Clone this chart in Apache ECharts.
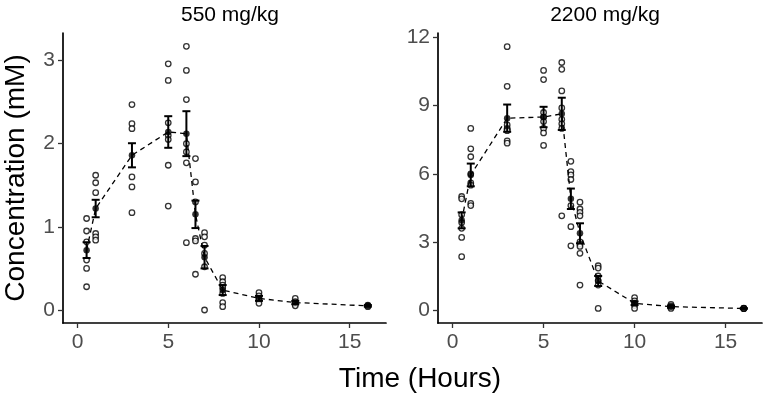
<!DOCTYPE html>
<html>
<head>
<meta charset="utf-8">
<script src="https://cdn.jsdelivr.net/npm/echarts@6/dist/echarts.min.js"></script>
<style>
  html, body { margin: 0; padding: 0; background: #fff; }
  #chart { width: 765px; height: 396px; }
</style>
</head>
<body>
<div id="chart"></div>
<script>
// sampling times (hours)
const times = [0.5, 1, 3, 5, 6, 6.5, 7, 8, 10, 12, 16]

// 550 mg/kg - individual animals, mean, SE
const lowRaw = [
  [1.1, 0.95, 0.82, 0.6, 0.5, 0.28],
  [1.62, 1.53, 1.41, 0.92, 0.88, 0.84],
  [2.47, 2.24, 2.18, 1.6, 1.48, 1.17],
  [2.96, 2.76, 2.25, 2.1, 2.05, 1.74, 1.25],
  [3.17, 2.88, 2.53, 2.0, 1.9, 1.77, 0.81],
  [1.82, 1.54, 1.3, 0.86, 0.83, 0.43],
  [0.93, 0.88, 0.78, 0.68, 0.52, 0.0],
  [0.39, 0.34, 0.3, 0.27, 0.2, 0.09, 0.04],
  [0.21, 0.17, 0.14, 0.12, 0.08],
  [0.14, 0.1, 0.07, 0.05],
  [0.06, 0.05, 0.04]
]
const lowMean = [0.72, 1.22, 1.86, 2.14, 2.12, 1.15, 0.635, 0.24, 0.14, 0.09, 0.05]
const lowSE = [0.095, 0.105, 0.145, 0.19, 0.27, 0.165, 0.135, 0.06, 0.03, 0.02, 0.01]

// 2200 mg/kg
const highRaw = [
  [5.0, 4.9, 4.2, 3.85, 3.6, 3.2, 2.35],
  [8.0, 7.1, 6.75, 6.0, 5.6, 5.5, 4.7, 4.6],
  [11.6, 9.85, 8.15, 8.0, 7.95, 7.9, 7.45, 7.35],
  [10.55, 10.15, 8.7, 8.5, 8.3, 8.0, 7.8, 7.25],
  [10.9, 10.6, 9.65, 8.9, 8.4, 8.2, 8.0, 4.15],
  [6.55, 6.1, 5.95, 5.75, 4.6, 3.67, 2.83],
  [4.75, 4.45, 4.3, 4.15, 3.0, 2.9, 2.8, 2.5, 1.1],
  [1.95, 1.85, 1.5, 1.3, 1.1, 0.07],
  [0.55, 0.4, 0.3, 0.2, 0.07],
  [0.25, 0.18, 0.12, 0.07],
  [0.08, 0.07, 0.06]
]
const highMean = [3.95, 5.95, 8.45, 8.5, 8.64, 4.9, 3.38, 1.28, 0.3, 0.15, 0.07]
const highSE = [0.35, 0.5, 0.6, 0.45, 0.71, 0.45, 0.44, 0.22, 0.08, 0.05, 0.02]

const panelTitles = ['550 mg/kg', '2200 mg/kg']
const xTicks = [0, 5, 10, 15]
const yTicksLow = [0, 1, 2, 3]
const yTicksHigh = [0, 3, 6, 9, 12]

const FONT = 'Liberation Sans, Arial, sans-serif'

function flatten(raw) {
  const out = []
  raw.forEach(function(vals, i) {
    vals.forEach(function(v) { out.push([times[i], v]) })
  })
  return out
}

function xAxisFor(idx) {
  return {
    gridIndex: idx,
    type: 'value',
    min: -0.8,
    max: 17,
    splitLine: { show: false },
    axisLine: { onZero: false, lineStyle: { color: '#000', width: 1.7 } },
    axisTick: { show: true, length: 5, customValues: xTicks, lineStyle: { color: '#333', width: 1.3 } },
    axisLabel: { customValues: xTicks, margin: 9, fontSize: 21, color: '#4d4d4d', fontFamily: FONT }
  }
}

function yAxisFor(idx, min, max, ticks) {
  return {
    gridIndex: idx,
    type: 'value',
    min: min,
    max: max,
    splitLine: { show: false },
    axisLine: { show: true, onZero: false, lineStyle: { color: '#000', width: 1.7 } },
    axisTick: { show: true, length: 5, customValues: ticks, lineStyle: { color: '#333', width: 1.3 } },
    axisLabel: { customValues: ticks, margin: 8, fontSize: 21, color: '#4d4d4d', fontFamily: FONT }
  }
}

function errorBarItem(params, api) {
  const x = api.value(0)
  const m = api.value(1)
  const se = api.value(2)
  const top = api.coord([x, m + se])
  const bot = api.coord([x, m - se])
  const w = 4
  const style = { stroke: '#000', lineWidth: 2 }
  return {
    type: 'group',
    children: [
      { type: 'line', shape: { x1: top[0], y1: top[1], x2: bot[0], y2: bot[1] }, style: style },
      { type: 'line', shape: { x1: top[0] - w, y1: top[1], x2: top[0] + w, y2: top[1] }, style: style },
      { type: 'line', shape: { x1: bot[0] - w, y1: bot[1], x2: bot[0] + w, y2: bot[1] }, style: style }
    ]
  }
}

function panelSeries(idx, raw, mean, se) {
  return [
    {
      type: 'scatter',
      xAxisIndex: idx,
      yAxisIndex: idx,
      symbol: 'circle',
      symbolSize: 5.5,
      itemStyle: { color: '#fff', borderColor: '#000', borderWidth: 1.3 },
      data: flatten(raw),
      z: 2
    },
    {
      type: 'line',
      xAxisIndex: idx,
      yAxisIndex: idx,
      showSymbol: false,
      lineStyle: { color: '#000', width: 1.3, type: [5, 4] },
      data: times.map(function(t, i) { return [t, mean[i]] }),
      z: 3
    },
    {
      type: 'custom',
      xAxisIndex: idx,
      yAxisIndex: idx,
      renderItem: errorBarItem,
      data: times.map(function(t, i) { return [t, mean[i], se[i]] }),
      z: 4
    },
    {
      type: 'scatter',
      xAxisIndex: idx,
      yAxisIndex: idx,
      symbol: 'circle',
      symbolSize: 6.5,
      itemStyle: { color: '#000' },
      data: times.map(function(t, i) { return [t, mean[i]] }),
      z: 5
    }
  ]
}

const chart = echarts.init(document.getElementById('chart'))

const yLow = yAxisFor(0, -0.156, 3.33, yTicksLow)
yLow.name = 'Concentration (mM)'
yLow.nameLocation = 'middle'
yLow.nameGap = 33
yLow.nameTextStyle = { fontSize: 28, color: '#000', fontFamily: FONT }

chart.setOption({
  animation: false,
  backgroundColor: '#fff',
  title: [
    { text: panelTitles[0], left: 225, top: 0, textAlign: 'center',
      textStyle: { fontSize: 21, fontWeight: 'normal', color: '#000', fontFamily: FONT } },
    { text: panelTitles[1], left: 600, top: 0, textAlign: 'center',
      textStyle: { fontSize: 21, fontWeight: 'normal', color: '#000', fontFamily: FONT } },
    { text: 'Time (Hours)', left: 415, top: 360, textAlign: 'center',
      textStyle: { fontSize: 28, fontWeight: 'normal', color: '#000', fontFamily: FONT } }
  ],
  grid: [
    { left: 63, right: 379, top: 33, bottom: 73 },
    { left: 438, right: 3, top: 33, bottom: 73 }
  ],
  xAxis: [xAxisFor(0), xAxisFor(1)],
  yAxis: [yLow, yAxisFor(1, -0.57, 12.2, yTicksHigh)],
  series: panelSeries(0, lowRaw, lowMean, lowSE).concat(panelSeries(1, highRaw, highMean, highSE))
})
</script>
</body>
</html>
